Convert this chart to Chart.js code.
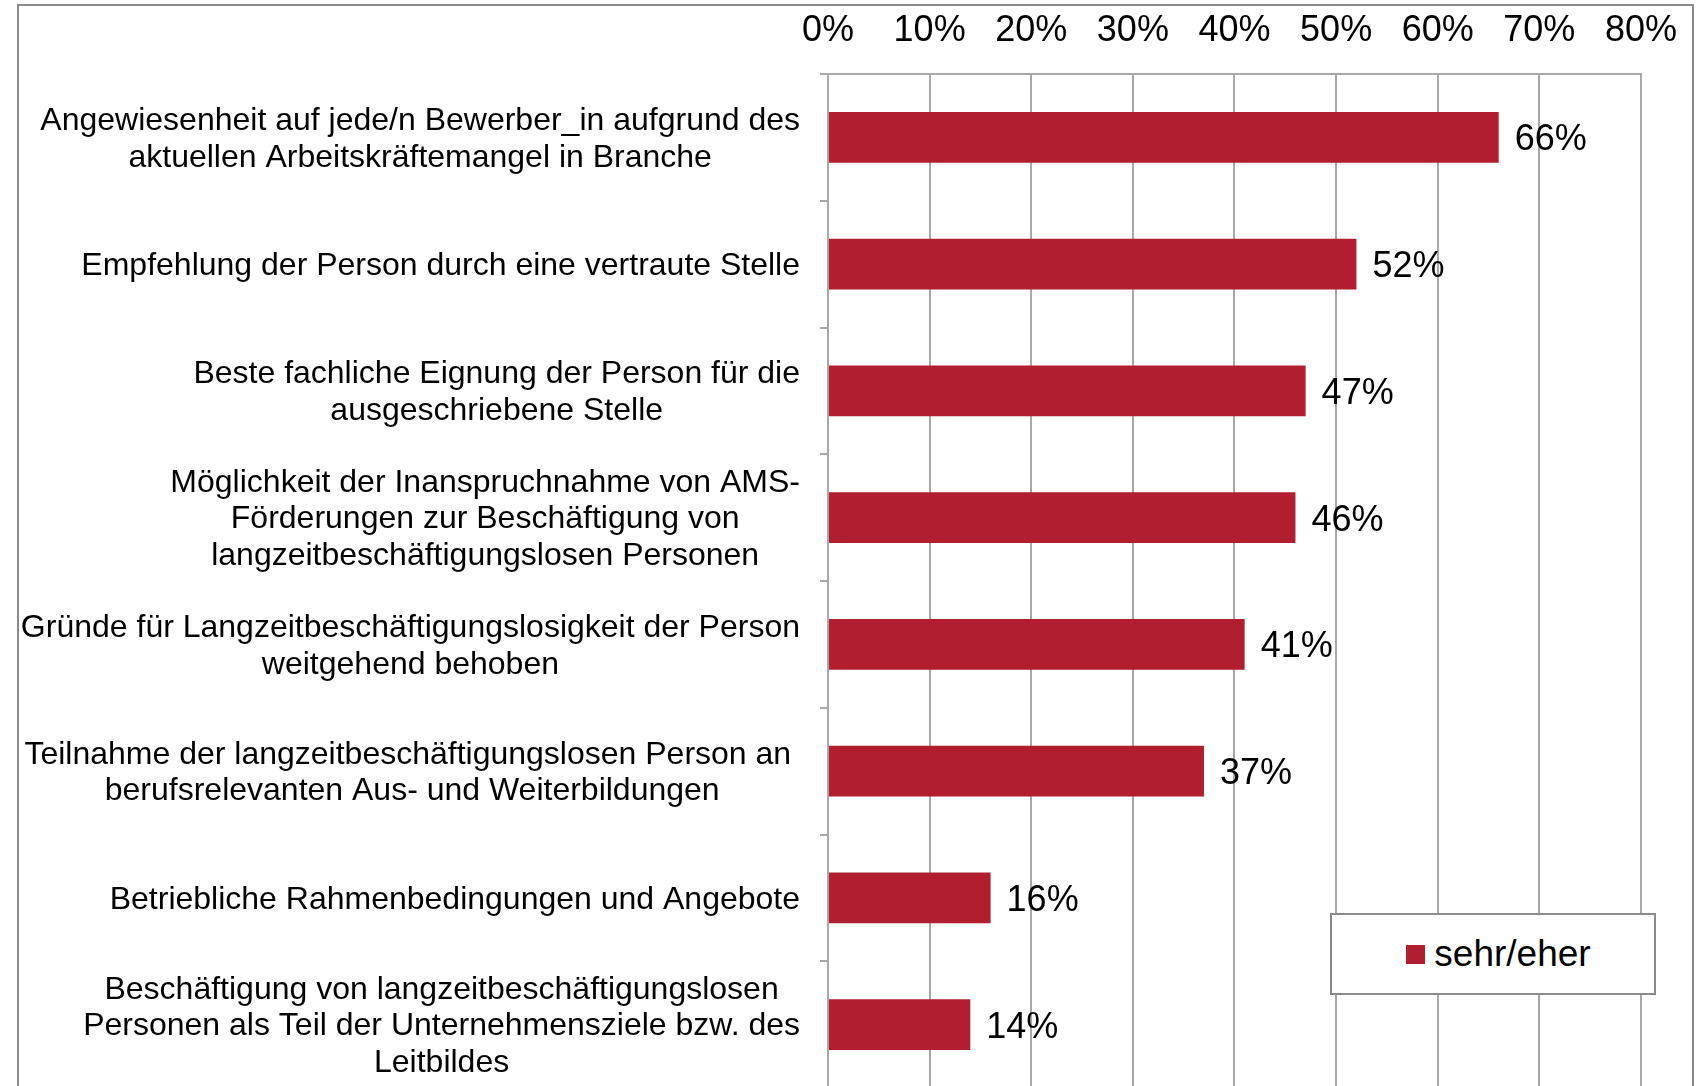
<!DOCTYPE html>
<html>
<head>
<meta charset="utf-8">
<script src="https://cdn.jsdelivr.net/npm/chart.js@4.4.1/dist/chart.umd.min.js"></script>
<style>
  html, body { margin: 0; padding: 0; background: #fff; overflow: hidden; }
  #wrap { position: relative; width: 1698px; height: 1088px; }
  #frame { position: absolute; left: 17px; top: 4px; width: 1673px; height: 1200px; border: 2px solid #8a8a8a; pointer-events: none; }
  #legend { position: absolute; left: 1330px; top: 913px; width: 311px; height: 78px; border: 2px solid #8a8a8a; background: #fff;
            display: flex; align-items: center; justify-content: center; padding-left: 11px; box-sizing: content-box;
            font-family: "Liberation Sans", Arial, sans-serif; font-size: 37px; color: #000; }
  #legend .box { width: 19px; height: 19px; margin-right: 9px; }
</style>
</head>
<body>
<div id="wrap">
  <canvas id="chart"></canvas>
  <div id="frame"></div>
  <div id="legend"></div>
</div>
<script>
  // categories, one entry per bar (lines as in the original wrap)
  const categories = [
    ["Angewiesenheit auf jede/n Bewerber_in aufgrund des", "aktuellen Arbeitskräftemangel in Branche"],
    ["Empfehlung der Person durch eine vertraute Stelle"],
    ["Beste fachliche Eignung der Person für die", "ausgeschriebene Stelle"],
    ["Möglichkeit der Inanspruchnahme von AMS-", "Förderungen zur Beschäftigung von", "langzeitbeschäftigungslosen Personen"],
    ["Gründe für Langzeitbeschäftigungslosigkeit der Person", "weitgehend behoben"],
    ["Teilnahme der langzeitbeschäftigungslosen Person an ", "berufsrelevanten Aus- und Weiterbildungen"],
    ["Betriebliche Rahmenbedingungen und Angebote"],
    ["Beschäftigung von langzeitbeschäftigungslosen", "Personen als Teil der Unternehmensziele bzw. des", "Leitbildes"]
  ];
  const seriesName = "sehr/eher";
  const seriesValues = [66, 52, 47, 46, 41, 37, 16, 14];
  const tickValues = [0, 10, 20, 30, 40, 50, 60, 70, 80];

  const FONT = '"Liberation Sans", Arial, sans-serif';
  const barColor = '#B01E2F';
  const gridColor = '#A8A8A8';

  // category labels: each block right-aligned, its lines centred
  const categoryLabels = {
    id: 'categoryLabels',
    afterDraw(chart) {
      const ctx = chart.ctx;
      const y = chart.scales.y;
      const lineH = 36.8;
      ctx.save();
      ctx.font = '32px ' + FONT;
      ctx.fillStyle = '#000';
      ctx.textAlign = 'center';
      ctx.textBaseline = 'middle';
      categories.forEach((lines, i) => {
        const w = Math.max(...lines.map(l => ctx.measureText(l).width));
        const right = y.right - 28;
        const cx = right - w / 2;
        const cy = y.getPixelForTick(i) + 2;
        const top = cy - (lines.length - 1) * lineH / 2;
        lines.forEach((l, j) => ctx.fillText(l, cx, top + j * lineH));
      });
      ctx.restore();
    }
  };

  // value labels right of each bar
  const valueLabels = {
    id: 'valueLabels',
    afterDatasetsDraw(chart) {
      const ctx = chart.ctx;
      ctx.save();
      ctx.font = '36px ' + FONT;
      ctx.fillStyle = '#000';
      ctx.textAlign = 'left';
      ctx.textBaseline = 'middle';
      chart.getDatasetMeta(0).data.forEach((bar, i) => {
        ctx.fillText(seriesValues[i] + '%', bar.x + 16, bar.y + 3);
      });
      ctx.restore();
    }
  };

  const chart = new Chart(document.getElementById('chart'), {
    type: 'bar',
    data: {
      labels: categories,
      datasets: [{
        label: seriesName,
        data: seriesValues,
        backgroundColor: barColor,
        borderWidth: 0,
        categoryPercentage: 0.8,
        barPercentage: 0.5
      }]
    },
    options: {
      indexAxis: 'y',
      responsive: true,
      maintainAspectRatio: false,
      animation: false,
      layout: { padding: { left: 0, right: 53, top: 0, bottom: 0 } },
      plugins: { legend: { display: false }, tooltip: { enabled: false } },
      scales: {
        x: {
          position: 'top',
          min: 0,
          max: 80,
          afterBuildTicks(scale) { scale.ticks = tickValues.map(v => ({ value: v })); },
          afterFit(scale) { scale.height = 74; },
          grid: { color: gridColor, lineWidth: 2, drawTicks: false },
          border: { color: gridColor, width: 2 },
          ticks: {
            color: '#000',
            font: { family: FONT, size: 36 },
            padding: 21,
            maxRotation: 0,
            callback: v => v + '%'
          }
        },
        y: {
          afterFit(scale) { scale.width = 828; },
          grid: { color: gridColor, lineWidth: 2, drawOnChartArea: false, tickLength: 8, offset: true },
          border: { color: gridColor, width: 2 },
          ticks: { display: false }
        }
      }
    },
    plugins: [categoryLabels, valueLabels]
  });

  // legend box built from the dataset
  const legend = document.getElementById('legend');
  chart.data.datasets.forEach(ds => {
    const box = document.createElement('span');
    box.className = 'box';
    box.style.background = ds.backgroundColor;
    const txt = document.createElement('span');
    txt.textContent = ds.label;
    legend.appendChild(box);
    legend.appendChild(txt);
  });
</script>
</body>
</html>
